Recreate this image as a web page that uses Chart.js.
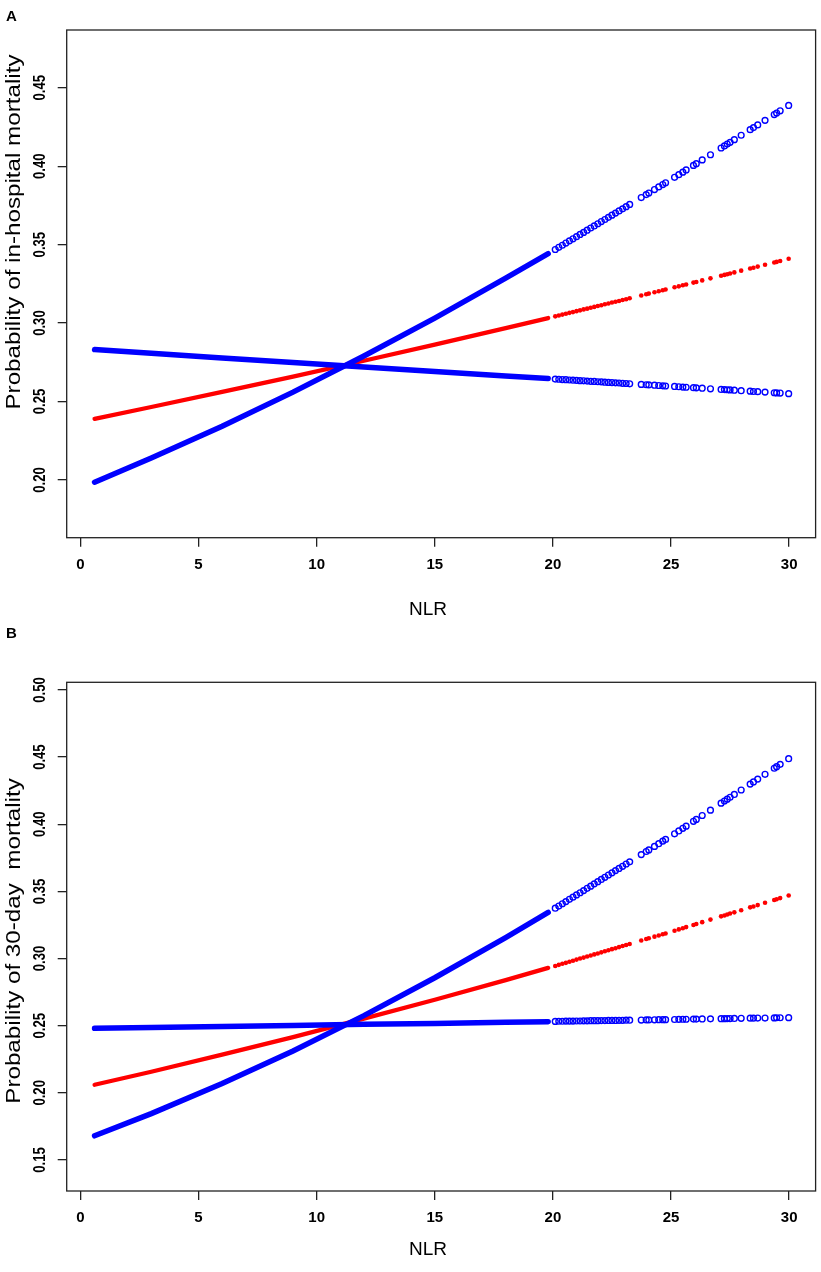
<!DOCTYPE html>
<html>
<head>
<meta charset="utf-8">
<script src="https://cdn.jsdelivr.net/npm/chart.js@4.4.1/dist/chart.umd.min.js"></script>
<style>
  html, body { margin: 0; padding: 0; background: #fff; }
  #wrap { position: relative; width: 821px; height: 1272px; }
  canvas { position: absolute; left: 0; }
</style>
</head>
<body>
<div id="wrap">
  <canvas id="chartA" width="821" height="620" style="top:0"></canvas>
  <canvas id="chartB" width="821" height="652" style="top:620px"></canvas>
</div>
<script>
/* ===== dados ===== */
const X_TICKS = [0, 5, 10, 15, 20, 25, 30];
const A_Y_TICKS = [0.20, 0.25, 0.30, 0.35, 0.40, 0.45];
const B_Y_TICKS = [0.15, 0.20, 0.25, 0.30, 0.35, 0.40, 0.45, 0.50];

const A_Y_LABEL = "Probability of in-hospital mortality";
const B_Y_LABEL = "Probability of 30-day  mortality";
const X_LABEL = "NLR";

// trecho denso (pontos sobrepostos formam uma faixa contínua)
const NLR_BAND = [0.6, 3, 6, 9, 12, 15, 18, 19.8];

const A_LOW_BAND  = [0.1986, 0.2140, 0.2343, 0.2560, 0.2790, 0.3032, 0.3286, 0.3443];
const A_FIT_BAND  = [0.2390, 0.2465, 0.2561, 0.2659, 0.2760, 0.2863, 0.2968, 0.3032];
const A_FLAT_BAND = [0.2831, 0.2808, 0.2778, 0.2749, 0.2720, 0.2691, 0.2663, 0.2646];

const B_LOW_BAND  = [0.1680, 0.1845, 0.2069, 0.2312, 0.2575, 0.2857, 0.3156, 0.3343];
const B_FIT_BAND  = [0.2060, 0.2157, 0.2284, 0.2415, 0.2552, 0.2693, 0.2839, 0.2930];
const B_FLAT_BAND = [0.2480, 0.2486, 0.2494, 0.2502, 0.2510, 0.2517, 0.2525, 0.2530];

// trecho esparso (pontos individuais)
const NLR_PTS = [20.1, 20.25, 20.4, 20.55, 20.7, 20.85, 21.0, 21.15, 21.3, 21.45, 21.6,
  21.75, 21.9, 22.05, 22.2, 22.35, 22.5, 22.65, 22.8, 22.95, 23.1, 23.25,
  23.74, 23.95, 24.06, 24.30, 24.48, 24.65, 24.77,
  25.15, 25.33, 25.50, 25.64, 25.95, 26.07, 26.32, 26.67, 27.12, 27.26, 27.38, 27.50,
  27.68, 27.97, 28.35, 28.49, 28.67, 28.98, 29.37, 29.47, 29.62, 29.98];

const A_LOW_PTS = [0.3469, 0.3483, 0.3496, 0.3510, 0.3524, 0.3537, 0.3551, 0.3565, 0.3578, 0.3592, 0.3606,
  0.3619, 0.3633, 0.3647, 0.3660, 0.3674, 0.3688, 0.3701, 0.3715, 0.3728, 0.3742, 0.3756,
  0.3800, 0.3819, 0.3829, 0.3851, 0.3868, 0.3883, 0.3894,
  0.3929, 0.3946, 0.3962, 0.3976, 0.4005, 0.4016, 0.4040, 0.4073, 0.4116, 0.4129, 0.4141, 0.4152,
  0.4169, 0.4197, 0.4233, 0.4246, 0.4263, 0.4292, 0.4329, 0.4339, 0.4353, 0.4387];
const A_FIT_PTS = [0.3043, 0.3048, 0.3054, 0.3059, 0.3065, 0.3070, 0.3076, 0.3081, 0.3087, 0.3092, 0.3098,
  0.3103, 0.3109, 0.3114, 0.3120, 0.3125, 0.3131, 0.3136, 0.3141, 0.3147, 0.3152, 0.3158,
  0.3176, 0.3184, 0.3188, 0.3196, 0.3203, 0.3209, 0.3214,
  0.3228, 0.3234, 0.3241, 0.3246, 0.3258, 0.3262, 0.3272, 0.3285, 0.3302, 0.3307, 0.3311, 0.3316,
  0.3323, 0.3334, 0.3348, 0.3353, 0.3360, 0.3372, 0.3386, 0.3390, 0.3396, 0.3410];
const A_FLAT_PTS = [0.2643, 0.2642, 0.2640, 0.2639, 0.2637, 0.2636, 0.2635, 0.2633, 0.2632, 0.2630, 0.2629,
  0.2628, 0.2626, 0.2625, 0.2623, 0.2622, 0.2621, 0.2619, 0.2618, 0.2616, 0.2615, 0.2613,
  0.2609, 0.2607, 0.2606, 0.2604, 0.2602, 0.2600, 0.2599,
  0.2596, 0.2594, 0.2592, 0.2591, 0.2588, 0.2587, 0.2585, 0.2581, 0.2577, 0.2576, 0.2575, 0.2574,
  0.2572, 0.2569, 0.2566, 0.2564, 0.2563, 0.2560, 0.2556, 0.2555, 0.2554, 0.2550];

const B_LOW_PTS = [0.3375, 0.3391, 0.3408, 0.3424, 0.3441, 0.3457, 0.3474, 0.3490, 0.3506, 0.3523, 0.3539,
  0.3556, 0.3572, 0.3589, 0.3605, 0.3622, 0.3638, 0.3655, 0.3671, 0.3687, 0.3704, 0.3720,
  0.3774, 0.3797, 0.3809, 0.3835, 0.3855, 0.3874, 0.3887,
  0.3929, 0.3950, 0.3970, 0.3986, 0.4022, 0.4036, 0.4065, 0.4105, 0.4157, 0.4173, 0.4187, 0.4201,
  0.4222, 0.4255, 0.4299, 0.4315, 0.4336, 0.4372, 0.4417, 0.4429, 0.4446, 0.4488];
const B_FIT_PTS = [0.2945, 0.2953, 0.2961, 0.2968, 0.2976, 0.2984, 0.2992, 0.3000, 0.3007, 0.3015, 0.3023,
  0.3031, 0.3038, 0.3046, 0.3054, 0.3062, 0.3070, 0.3077, 0.3085, 0.3093, 0.3101, 0.3108,
  0.3134, 0.3145, 0.3151, 0.3163, 0.3172, 0.3181, 0.3187,
  0.3207, 0.3217, 0.3226, 0.3234, 0.3250, 0.3257, 0.3271, 0.3290, 0.3314, 0.3321, 0.3328, 0.3335,
  0.3344, 0.3360, 0.3381, 0.3388, 0.3398, 0.3415, 0.3436, 0.3441, 0.3450, 0.3469];
const B_FLAT_PTS = [0.2532, 0.2533, 0.2533, 0.2534, 0.2534, 0.2534, 0.2535, 0.2535, 0.2536, 0.2536, 0.2537,
  0.2537, 0.2537, 0.2538, 0.2538, 0.2539, 0.2539, 0.2539, 0.2540, 0.2540, 0.2541, 0.2541,
  0.2542, 0.2543, 0.2543, 0.2544, 0.2545, 0.2545, 0.2545,
  0.2546, 0.2547, 0.2548, 0.2548, 0.2549, 0.2549, 0.2550, 0.2551, 0.2552, 0.2552, 0.2553, 0.2553,
  0.2554, 0.2555, 0.2556, 0.2556, 0.2557, 0.2557, 0.2558, 0.2559, 0.2559, 0.2560];

/* ===== utilitários ===== */
const BLUE = "#0000ff";
const RED = "#ff0000";
const FONT = '"Liberation Sans", Arial, sans-serif';

function pts(xs, ys) {
  return xs.map((x, i) => ({ x, y: ys[i] }));
}

function band(ys, color, width) {
  return {
    data: pts(NLR_BAND, ys),
    showLine: true,
    borderColor: color,
    borderWidth: width,
    borderCapStyle: "round",
    pointRadius: 0
  };
}

function blueDots(ys) {
  return {
    data: pts(NLR_PTS, ys),
    pointRadius: 2.9,
    pointBorderWidth: 1.4,
    pointBorderColor: BLUE,
    pointBackgroundColor: "rgba(255,255,255,0)"
  };
}

function redDots(ys) {
  return {
    data: pts(NLR_PTS, ys),
    pointRadius: 2.3,
    pointBorderWidth: 0,
    pointBackgroundColor: RED
  };
}

// eixos ao estilo do R: caixa, rótulos do eixo y girados
const rStyle = {
  id: "rStyle",
  afterDraw(chart, args, o) {
    const { ctx, chartArea: a, scales } = chart;
    ctx.save();
    ctx.strokeStyle = "#222";
    ctx.lineWidth = 1.3;
    ctx.strokeRect(a.left, a.top, a.right - a.left, a.bottom - a.top);

    ctx.fillStyle = "#000";
    ctx.textAlign = "center";
    ctx.textBaseline = "middle";
    ctx.font = "bold 16px " + FONT;
    o.yTicks.forEach(v => {
      ctx.save();
      ctx.translate(41, scales.y.getPixelForValue(v));
      ctx.rotate(-Math.PI / 2);
      ctx.scale(0.82, 1);
      ctx.fillText(v.toFixed(2), 0, 0);
      ctx.restore();
    });

    ctx.font = "20px " + FONT;
    ctx.save();
    ctx.translate(14, o.yTitleY);
    ctx.rotate(-Math.PI / 2);
    ctx.scale(1.21, 1);
    ctx.fillText(o.yTitle, 0, 0);
    ctx.restore();

    ctx.font = "19px " + FONT;
    ctx.fillText(X_LABEL, o.xTitleX, o.xTitleY);

    ctx.font = "bold 15px " + FONT;
    ctx.textAlign = "left";
    ctx.fillText(o.panel, 6, o.panelY);
    ctx.restore();
  }
};

function criarGrafico(id, c) {
  const ctx = document.getElementById(id).getContext("2d");
  return new Chart(ctx, {
    type: "scatter",
    data: {
      datasets: [
        band(c.low, BLUE, 5.5),
        band(c.flat, BLUE, 5.5),
        band(c.fit, RED, 4.3),
        blueDots(c.lowPts),
        blueDots(c.flatPts),
        redDots(c.fitPts)
      ]
    },
    options: {
      responsive: false,
      animation: false,
      devicePixelRatio: 1,
      layout: { padding: { left: 0, right: 4.5, top: c.padTop, bottom: 0 } },
      plugins: {
        legend: { display: false },
        tooltip: { enabled: false },
        rStyle: c.labels
      },
      scales: {
        x: {
          type: "linear",
          min: -0.58,
          max: 31.12,
          afterBuildTicks: s => { s.ticks = X_TICKS.map(v => ({ value: v })); },
          afterFit: s => { s.height = c.xHeight; },
          grid: { drawOnChartArea: false, drawTicks: true, tickLength: 9, color: "#222", lineWidth: 1.3 },
          border: { display: false },
          ticks: {
            color: "#000",
            padding: 9,
            maxRotation: 0,
            font: { family: FONT, size: 15, weight: "bold" },
            callback: v => String(v)
          }
        },
        y: {
          type: "linear",
          min: c.yMin,
          max: c.yMax,
          afterBuildTicks: s => { s.ticks = c.yTicks.map(v => ({ value: v })); },
          afterFit: s => { s.width = 66.7; },
          grid: { drawOnChartArea: false, drawTicks: true, tickLength: 9, color: "#222", lineWidth: 1.3 },
          border: { display: false },
          ticks: { display: false }
        }
      }
    },
    plugins: [rStyle]
  });
}

criarGrafico("chartA", {
  low: A_LOW_BAND, flat: A_FLAT_BAND, fit: A_FIT_BAND,
  lowPts: A_LOW_PTS, flatPts: A_FLAT_PTS, fitPts: A_FIT_PTS,
  yMin: 0.1632, yMax: 0.4868, yTicks: A_Y_TICKS,
  padTop: 30, xHeight: 620 - 537.7,
  labels: { yTicks: A_Y_TICKS, yTitle: A_Y_LABEL, yTitleY: 232, xTitleX: 428, xTitleY: 610, panel: "A", panelY: 17 }
});

criarGrafico("chartB", {
  low: B_LOW_BAND, flat: B_FLAT_BAND, fit: B_FIT_BAND,
  lowPts: B_LOW_PTS, flatPts: B_FLAT_PTS, fitPts: B_FIT_PTS,
  yMin: 0.1269, yMax: 0.5057, yTicks: B_Y_TICKS,
  padTop: 62.3, xHeight: 652 - 571,
  labels: { yTicks: B_Y_TICKS, yTitle: B_Y_LABEL, yTitleY: 321, xTitleX: 428, xTitleY: 630, panel: "B", panelY: 14 }
});
</script>
</body>
</html>
